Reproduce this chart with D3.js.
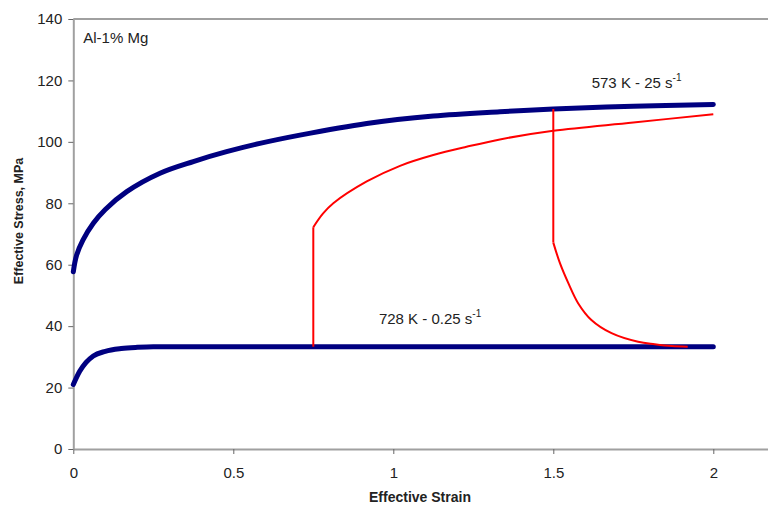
<!DOCTYPE html>
<html><head><meta charset="utf-8">
<script src="https://cdn.jsdelivr.net/npm/d3@7"></script>
<style>body{margin:0;background:#fff}svg{display:block;font-family:"Liberation Sans",Arial,sans-serif}</style>
</head><body><svg id="c" width="768" height="507"></svg>
<script>
// Data (strain, stress MPa)
const xTicks = [0, 0.5, 1, 1.5, 2];
const xTickLabels = ["0", "0.5", "1", "1.5", "2"];
const yTicks = [0, 20, 40, 60, 80, 100, 120, 140];
const curve573 = [[0,57.7],[0.01,63],[0.03,68],[0.0625,73.5],[0.1,78],[0.167,83.8],[0.271,89.8],[0.375,93.6],[0.479,96.8],[0.583,99.5],[0.708,102.2],[0.917,106],[1.125,108.4],[1.333,109.8],[1.5,110.7],[1.75,111.6],[2,112.2]];
const curve728 = [[0,21],[0.02,25.3],[0.04,28.2],[0.0625,30.3],[0.1,31.8],[0.15,32.7],[0.2,33.1],[0.25,33.3],[0.5,33.3],[1,33.3],[1.5,33.3],[2,33.3]];
const jumpUp = [[0.75,33.3],[0.75,72.2],[0.78,76.6],[0.8125,80],[0.917,87.1],[1.021,92.2],[1.125,95.7],[1.229,98.4],[1.333,100.8],[1.5,103.6],[1.75,106.3],[2,109]];
const jumpDown = [[1.5,110.7],[1.5,67.2],[1.5208,60.5],[1.547,54],[1.578,47.4],[1.619,42],[1.682,37.7],[1.765,34.9],[1.817,34.1],[1.87,33.5],[1.92,33.3]];
const labels = [{t:"Al-1% Mg", x:0.031, y:132.3, sup:""},{t:"573 K - 25 s", x:1.62, y:117.4, sup:"-1"},{t:"728 K - 0.25 s", x:0.955, y:40.6, sup:"-1"}];

const svg = d3.select("#c");
const x = d3.scaleLinear().domain([0, (768-73.3)/320]).range([73.3, 768]);
const y = d3.scaleLinear().domain([0, 140]).range([449, 19]);
const axisCol = "#a0a0a0";

// top border
svg.append("line").attr("x1", x(0)).attr("x2", 768).attr("y1", y(140)).attr("y2", y(140)).attr("stroke", axisCol).attr("stroke-width", 2);

const gx = svg.append("g").attr("transform", `translate(0,${y(0)})`)
  .call(d3.axisBottom(x).tickValues(xTicks).tickFormat((d,i)=>xTickLabels[i]).tickSize(5).tickSizeOuter(0).tickPadding(13));
const gy = svg.append("g").attr("transform", `translate(${x(0)},0)`)
  .call(d3.axisLeft(y).tickValues(yTicks).tickSize(5).tickSizeOuter(0).tickPadding(6));
[gx, gy].forEach(g => {
  g.select(".domain").attr("stroke", axisCol).attr("stroke-width", 2);
  g.selectAll(".tick line").attr("stroke", "#666");
  g.selectAll(".tick text").attr("font-size", 15).attr("fill", "#222").attr("font-family", '"Liberation Sans",Arial,sans-serif');
});

const line = d3.line().x(d => x(d[0])).y(d => y(d[1])).curve(d3.curveCatmullRom.alpha(0.5));
const lineM = d3.line().x(d => x(d[0])).y(d => y(d[1])).curve(d3.curveMonotoneX);
const lineR = d3.line().x(d => x(d[0])).y(d => y(d[1])).curve(d3.curveLinear);

function redPath(data){
  const vert = data.slice(0,2), rest = data.slice(1);
  svg.append("path").attr("d", lineR(vert)).attr("fill","none").attr("stroke","#ff0000").attr("stroke-width",2);
  svg.append("path").attr("d", line(rest)).attr("fill","none").attr("stroke","#ff0000").attr("stroke-width",2);
}
svg.append("path").attr("d", line(curve573)).attr("fill","none")
  .attr("stroke","#000080").attr("stroke-width",5).attr("stroke-linecap","round");
svg.append("path").attr("d", lineM(curve728)).attr("fill","none")
  .attr("stroke","#000080").attr("stroke-width",5).attr("stroke-linecap","round");
redPath(jumpUp);
redPath(jumpDown);

labels.forEach(l => {
  const t = svg.append("text").attr("x", x(l.x)).attr("y", y(l.y)).attr("font-size", 15).attr("fill", "#222");
  t.append("tspan").text(l.t);
  if (l.sup) t.append("tspan").attr("dy", -7).attr("font-size", 10).text(l.sup);
});

svg.append("text").attr("x", 420).attr("y", 502).attr("text-anchor","middle").attr("font-weight","bold").attr("font-size",14).attr("fill","#222").text("Effective Strain");
svg.append("text").attr("transform", `translate(23,221) rotate(-90)`).attr("text-anchor","middle").attr("font-weight","bold").attr("font-size",12.5).attr("fill","#222").text("Effective Stress, MPa");
</script></body></html>
